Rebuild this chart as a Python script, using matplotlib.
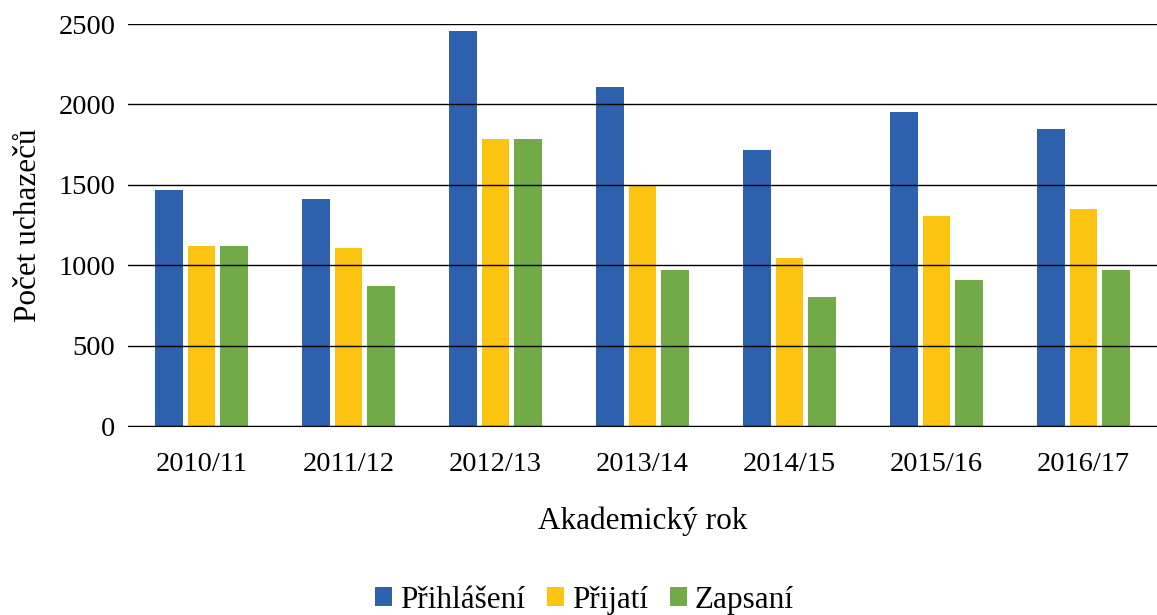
import matplotlib.pyplot as plt
import numpy as np

# data
roky = ['2010/11', '2011/12', '2012/13', '2013/14', '2014/15', '2015/16', '2016/17']
prihlaseni = [1466, 1412, 2456, 2108, 1716, 1953, 1847]
prijati = [1119, 1107, 1785, 1494, 1045, 1306, 1350]
zapsani = [1119, 871, 1785, 970, 802, 908, 970]

serie = ['Přihlášení', 'Přijatí', 'Zapsaní']
barvy = ['#2E61AD', '#FCC311', '#72AA48']

plt.rcParams['font.family'] = ['Liberation Serif', 'DejaVu Serif']

fig = plt.figure(figsize=(11.57, 6.15), dpi=100)
ax = fig.add_axes([128/1157, 189/615, 1 - 128/1157, 402/615])

x = np.arange(len(roky))
w = 0.184
step = 0.221
for i, (vals, name, c) in enumerate(zip([prihlaseni, prijati, zapsani], serie, barvy)):
    ax.bar(x + (i - 1)*step, vals, width=w, color=c, label=name, zorder=2)

ax.set_xlim(-0.5, len(roky) - 0.5)
ax.set_ylim(0, 2500)
ax.set_yticks(range(0, 2501, 500))
ax.set_xticks(x)
ax.set_xticklabels(roky)
ax.grid(axis='y', color='black', linewidth=1, zorder=3)
ax.set_axisbelow(False)
for s in ['top', 'right', 'left']:
    ax.spines[s].set_visible(False)
ax.spines['bottom'].set_color('black')
ax.tick_params(length=0, labelsize=20.5)
ax.tick_params(axis='x', pad=19)
ax.tick_params(axis='y', pad=9)

ax.set_xlabel('Akademický rok', fontsize=22.5, labelpad=21)
ax.set_ylabel('Počet uchazečů', fontsize=22.5, labelpad=11)

fig.legend(loc='lower center', bbox_to_anchor=(0.505, -0.045), ncol=3, frameon=False,
           fontsize=22.5, handlelength=0.55, handleheight=0.55, handletextpad=0.25,
           columnspacing=0.7)

fig.savefig('out.png', dpi=100)
